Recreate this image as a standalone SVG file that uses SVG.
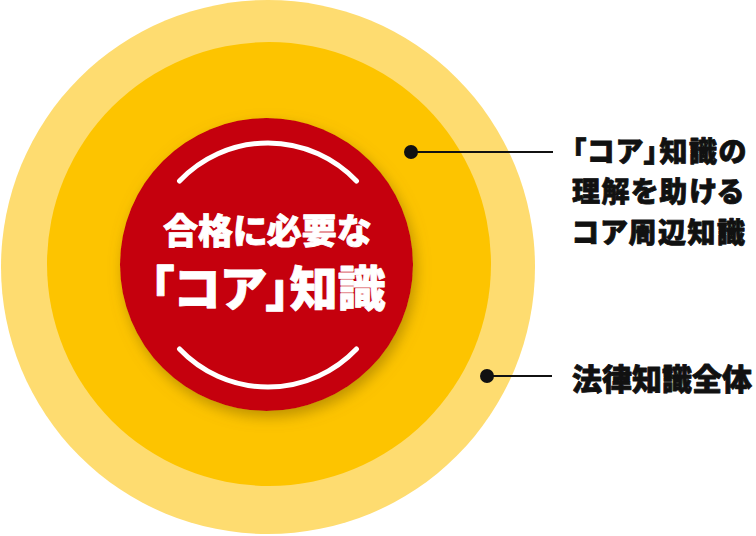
<svg xmlns="http://www.w3.org/2000/svg" width="756" height="536" viewBox="0 0 756 536">
<defs>
<filter id="sh" x="-20%" y="-20%" width="140%" height="140%">
<feGaussianBlur in="SourceAlpha" stdDeviation="7"/>
<feOffset dx="3" dy="6" result="b"/>
<feFlood flood-color="#8a6a00" flood-opacity="0.55"/>
<feComposite in2="b" operator="in"/>
<feMerge><feMergeNode/><feMergeNode in="SourceGraphic"/></feMerge>
</filter>
<style>
.t{font-family:"Noto Sans CJK JP","Noto Sans CJK SC",sans-serif;font-weight:900;font-feature-settings:"palt";stroke-width:0.8;stroke-linejoin:round;}
.w{fill:#fff;stroke:#fff;}
.k{fill:#111;stroke:#111;font-size:28px;letter-spacing:1.5px;}
.k2{fill:#111;stroke:#111;font-size:30px;}
.arc{fill:none;stroke:#fff;stroke-width:5;stroke-linecap:round;}
.ln{stroke:#111;stroke-width:2;}
</style>
</defs>
<g id="outer"><circle cx="268" cy="267" r="267" fill="#FEDC70"/></g>
<g id="middle"><circle cx="269" cy="264" r="222" fill="#FDC400"/></g>
<g id="core">
<circle cx="266.5" cy="264.5" r="146.5" fill="#C5000E" filter="url(#sh)"/>
<path class="arc" d="M179.5 181 A122 122 0 0 1 356.5 181"/>
<path class="arc" d="M179.5 349 A122 122 0 0 0 356.5 349"/>
<text class="t w" x="267" y="244" font-size="35" text-anchor="middle">合格に必要な</text>
<text class="t w" x="268" y="306" font-size="48" text-anchor="middle">「コア」知識</text>
</g>
<g id="connectors">
<line class="ln" x1="411" y1="152" x2="553" y2="152"/>
<circle cx="411" cy="152" r="7" fill="#111"/>
<line class="ln" x1="487" y1="376" x2="552" y2="376"/>
<circle cx="487" cy="376" r="7" fill="#111"/>
</g>
<g id="label-core">
<text class="t k" x="572" y="161.5">「コア」知識の</text>
<text class="t k" x="572" y="202">理解を助ける</text>
<text class="t k" x="572" y="242.5">コア周辺知識</text>
</g>
<g id="label-all">
<text class="t k2" x="572" y="390">法律知識全体</text>
</g>
</svg>
